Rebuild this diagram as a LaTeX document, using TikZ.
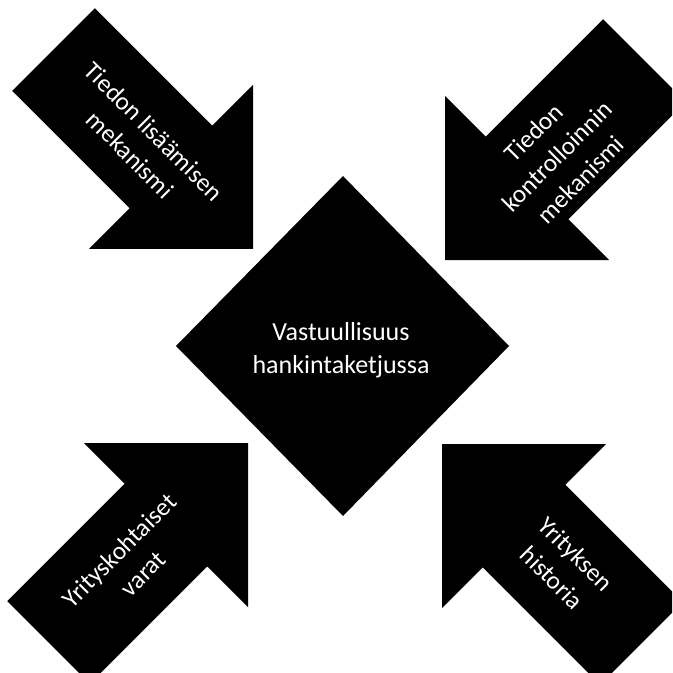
\documentclass[tikz,border=0pt]{standalone}
\usepackage{fontspec}
\setmainfont{Carlito}
\tikzset{
  shapefill/.style={fill=black},
  lbl/.style={text=white, font=\fontsize{19}{25}\selectfont, align=center, inner sep=0pt},
  centerlbl/.style={text=white, font=\fontsize{19.5}{25}\selectfont, align=center, inner sep=0pt},
}
\newcommand\fiarrow[2]{%
  \fill[shapefill, shift={#1}, rotate=#2] (0,0) -- (-116,116) -- (-116,58.5) -- (-282,58.5)
    -- (-282,-58.5) -- (-116,-58.5) -- (-116,-116) -- cycle;}
\begin{document}
\begin{tikzpicture}[x=0.75pt,y=-0.75pt]
\useasboundingbox (0,0) rectangle (672,673);
\clip (0,0) rectangle (672,673);
% centre diamond
\fill[shapefill] (343,176) -- (509,346) -- (343,516) -- (176,346) -- cycle;
\node[centerlbl] (c) at (341,350) {Vastuullisuus\\hankintaketjussa};
% arrows
\fiarrow{(253,249)}{-45}
\fiarrow{(445,260)}{-135}
\fiarrow{(248,443)}{45}
\fiarrow{(442,444)}{135}
\node[lbl, rotate=-45] (tl) at (142,143) {Tiedon lisäämisen\\mekanismi};
\node[lbl, rotate=45] (tr) at (557,156) {Tiedon\\kontrolloinnin\\mekanismi};
\node[lbl, rotate=45] (bl) at (131,562) {Yrityskohtaiset\\varat};
\node[lbl, rotate=-45] (br) at (564,566) {Yrityksen\\historia};
\end{tikzpicture}
\end{document}
